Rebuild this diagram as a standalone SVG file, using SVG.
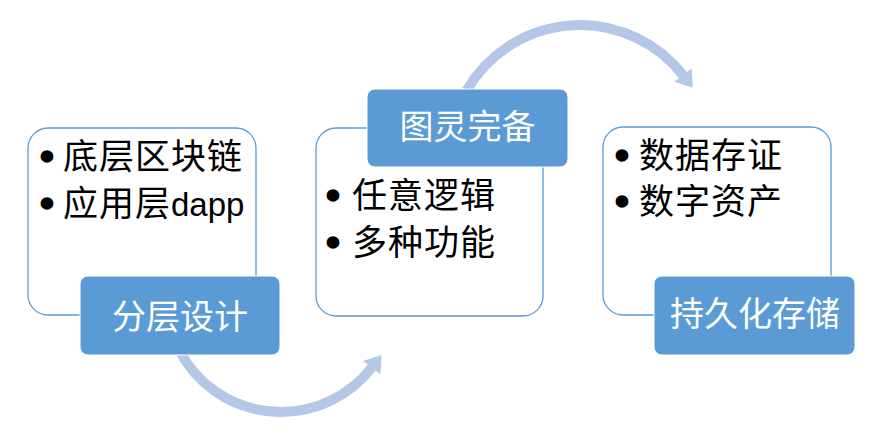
<svg xmlns="http://www.w3.org/2000/svg" width="873" height="442" viewBox="0 0 873 442">
<style>
.box{fill:#ffffff;stroke:#5b9bd5;stroke-width:1.3}
.lab{fill:#5b9bd5;stroke:#ffffff;stroke-width:1}
.t{font-family:"Noto Sans CJK SC","Noto Sans",sans-serif;font-size:35px;letter-spacing:1px;fill:#000000}
.l{font-family:"Liberation Sans",sans-serif;font-size:33px;fill:#000000}
.b{font-family:"Liberation Sans",sans-serif;font-size:34px;fill:#000000;stroke:#000000;stroke-width:3.5}
.lt{font-family:"Noto Sans CJK SC","Noto Sans",sans-serif;font-size:34px;fill:#ffffff;text-anchor:middle}
.arc{fill:none;stroke:#b4c7e7;stroke-width:10}
</style>
<defs>
<marker id="ah" markerUnits="userSpaceOnUse" markerWidth="30" markerHeight="30" viewBox="-2 -15 30 30" refX="0" refY="0" orient="auto">
<polygon points="-1,-11 15,0 -1,11" fill="#b4c7e7"/>
</marker>
</defs>
<g id="connectors">
<path class="arc" d="M 179.5 351 A 115 115 0 0 0 372.4 366.8" marker-end="url(#ah)"/>
<path class="arc" d="M 466.6 90.5 A 131 131 0 0 1 683.6 75.9" marker-end="url(#ah)"/>
</g>
<g id="node1">
<rect class="box" x="28" y="128" width="228" height="187" rx="20"/>
<text><tspan class="b" x="41" y="168">•</tspan><tspan class="t" x="63" y="169">底层区块链</tspan></text>
<text><tspan class="b" x="41" y="215">•</tspan><tspan class="t" x="63" y="216">应用层</tspan><tspan class="l">dapp</tspan></text>
<rect class="lab" x="80" y="276" width="200" height="79" rx="8"/>
<text class="lt" x="180" y="329">分层设计</text>
</g>
<g id="node2">
<rect class="box" x="316" y="128" width="227" height="188" rx="20"/>
<text><tspan class="b" x="327" y="207">•</tspan><tspan class="t" x="352" y="208">任意逻辑</tspan></text>
<text><tspan class="b" x="327" y="254">•</tspan><tspan class="t" x="352" y="255">多种功能</tspan></text>
<rect class="lab" x="367" y="89" width="201" height="78" rx="8"/>
<text class="lt" x="467.5" y="139">图灵完备</text>
</g>
<g id="node3">
<rect class="box" x="603" y="127" width="228" height="188" rx="20"/>
<text><tspan class="b" x="616" y="167">•</tspan><tspan class="t" x="639" y="168">数据存证</tspan></text>
<text><tspan class="b" x="616" y="213">•</tspan><tspan class="t" x="639" y="214">数字资产</tspan></text>
<rect class="lab" x="654" y="276" width="201" height="79" rx="8"/>
<text class="lt" x="755" y="326">持久化存储</text>
</g>
</svg>
